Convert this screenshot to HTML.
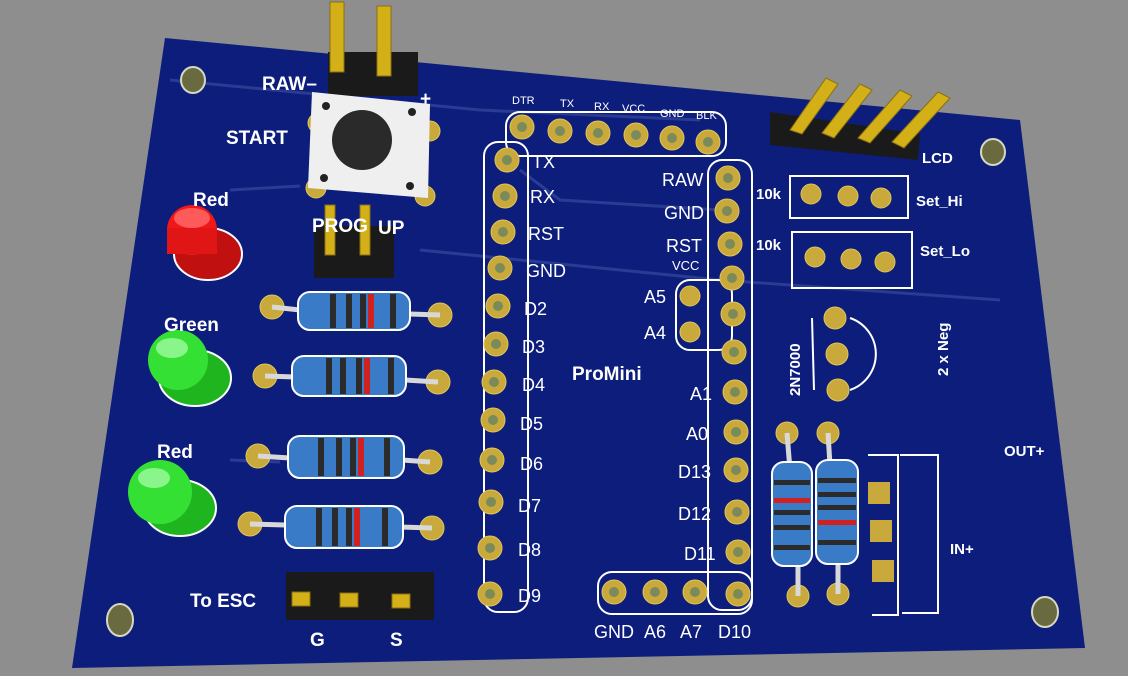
<!DOCTYPE html>
<html><head><meta charset="utf-8"><style>
html,body{margin:0;padding:0;background:#8e8e8e;}
svg{display:block}
text{font-family:"Liberation Sans",sans-serif;fill:#fff}
.b{font-weight:bold}
</style></head><body>
<svg width="1128" height="676" viewBox="0 0 1128 676">
<rect width="1128" height="676" fill="#8e8e8e"/>
<polygon points="165,38 1020,120 1085,648 72,668" fill="#0c1d7c"/>
<!-- traces -->
<g stroke="#2a3b94" stroke-width="3" fill="none">
<path d="M170,80 L480,110 L700,120"/>
<path d="M520,170 L560,200 L720,210"/>
<path d="M230,190 L300,186"/>
<path d="M420,250 L720,280 L1000,300"/>
<path d="M230,460 L280,462"/>
</g>
<!-- mounting holes -->
<g fill="#6a6a40" stroke="#d8d8c0" stroke-width="2">
<ellipse cx="193" cy="80" rx="12" ry="13"/><ellipse cx="993" cy="152" rx="12" ry="13"/>
<ellipse cx="120" cy="620" rx="13" ry="16"/><ellipse cx="1045" cy="612" rx="13" ry="15"/>
</g>
<!-- header outlines -->
<g fill="none" stroke="#fff" stroke-width="2">
<rect x="484" y="142" width="44" height="470" rx="14"/>
<rect x="708" y="160" width="44" height="450" rx="14"/>
<rect x="506" y="112" width="220" height="44" rx="14"/>
<rect x="598" y="572" width="154" height="42" rx="14"/>
<rect x="676" y="280" width="56" height="70" rx="14"/>
<rect x="790" y="176" width="118" height="42"/>
<rect x="792" y="232" width="120" height="56"/>
<path d="M868,455 h30 v160 h-26 M900,455 h38 v158 h-36"/>
</g>
<!-- pads -->
<g fill="#c9a93b" stroke="#e0c65a" stroke-width="1">
<g id="p">
<circle cx="507" cy="160" r="12"/><circle cx="505" cy="196" r="12"/><circle cx="503" cy="232" r="12"/><circle cx="500" cy="268" r="12"/>
<circle cx="498" cy="306" r="12"/><circle cx="496" cy="344" r="12"/><circle cx="494" cy="382" r="12"/><circle cx="493" cy="420" r="12"/>
<circle cx="492" cy="460" r="12"/><circle cx="491" cy="502" r="12"/><circle cx="490" cy="548" r="12"/><circle cx="490" cy="594" r="12"/>
<circle cx="728" cy="178" r="12"/><circle cx="727" cy="211" r="12"/><circle cx="730" cy="244" r="12"/><circle cx="732" cy="278" r="12"/>
<circle cx="733" cy="314" r="12"/><circle cx="734" cy="352" r="12"/><circle cx="735" cy="392" r="12"/><circle cx="736" cy="432" r="12"/>
<circle cx="736" cy="470" r="12"/><circle cx="737" cy="512" r="12"/><circle cx="738" cy="552" r="12"/><circle cx="738" cy="594" r="12"/>
<circle cx="522" cy="127" r="12"/><circle cx="560" cy="131" r="12"/><circle cx="598" cy="133" r="12"/><circle cx="636" cy="135" r="12"/><circle cx="672" cy="138" r="12"/><circle cx="708" cy="142" r="12"/>
<circle cx="614" cy="592" r="12"/><circle cx="655" cy="592" r="12"/><circle cx="695" cy="592" r="12"/>
<circle cx="690" cy="296" r="10"/><circle cx="690" cy="332" r="10"/>
<circle cx="811" cy="194" r="10"/><circle cx="848" cy="196" r="10"/><circle cx="881" cy="198" r="10"/>
<circle cx="815" cy="257" r="10"/><circle cx="851" cy="259" r="10"/><circle cx="885" cy="262" r="10"/>
<circle cx="835" cy="318" r="11"/><circle cx="837" cy="354" r="11"/><circle cx="838" cy="390" r="11"/>
<circle cx="787" cy="433" r="11"/><circle cx="828" cy="433" r="11"/><circle cx="798" cy="596" r="11"/><circle cx="838" cy="594" r="11"/>
<circle cx="272" cy="307" r="12"/><circle cx="440" cy="315" r="12"/><circle cx="265" cy="376" r="12"/><circle cx="438" cy="382" r="12"/>
<circle cx="258" cy="456" r="12"/><circle cx="430" cy="462" r="12"/><circle cx="250" cy="524" r="12"/><circle cx="432" cy="528" r="12"/>
<circle cx="318" cy="123" r="10"/><circle cx="430" cy="131" r="10"/><circle cx="316" cy="188" r="10"/><circle cx="425" cy="196" r="10"/>
</g>
</g>
<g fill="#7b8a5a">
<circle cx="507" cy="160" r="5"/><circle cx="505" cy="196" r="5"/><circle cx="503" cy="232" r="5"/><circle cx="500" cy="268" r="5"/><circle cx="498" cy="306" r="5"/><circle cx="496" cy="344" r="5"/><circle cx="494" cy="382" r="5"/><circle cx="493" cy="420" r="5"/><circle cx="492" cy="460" r="5"/><circle cx="491" cy="502" r="5"/><circle cx="490" cy="548" r="5"/><circle cx="490" cy="594" r="5"/>
<circle cx="728" cy="178" r="5"/><circle cx="727" cy="211" r="5"/><circle cx="730" cy="244" r="5"/><circle cx="732" cy="278" r="5"/><circle cx="733" cy="314" r="5"/><circle cx="734" cy="352" r="5"/><circle cx="735" cy="392" r="5"/><circle cx="736" cy="432" r="5"/><circle cx="736" cy="470" r="5"/><circle cx="737" cy="512" r="5"/><circle cx="738" cy="552" r="5"/><circle cx="738" cy="594" r="5"/>
<circle cx="522" cy="127" r="5"/><circle cx="560" cy="131" r="5"/><circle cx="598" cy="133" r="5"/><circle cx="636" cy="135" r="5"/><circle cx="672" cy="138" r="5"/><circle cx="708" cy="142" r="5"/>
<circle cx="614" cy="592" r="5"/><circle cx="655" cy="592" r="5"/><circle cx="695" cy="592" r="5"/>
</g>
<!-- 2N7000 outline -->
<path d="M850,318 A38,38 0 0 1 850,390" fill="none" stroke="#fff" stroke-width="2"/>
<line x1="812" y1="318" x2="814" y2="390" stroke="#fff" stroke-width="2"/>
<!-- terminal block pads -->
<g fill="#c9a93b"><rect x="868" y="482" width="22" height="22"/><rect x="870" y="520" width="22" height="22"/><rect x="872" y="560" width="22" height="22"/></g>
<!-- resistors -->
<g stroke="#d8d8d8" stroke-width="5" fill="none">
<path d="M272,307 L300,310 M410,314 L440,315"/><path d="M265,376 L295,377 M405,380 L438,382"/>
<path d="M258,456 L290,458 M402,460 L430,462"/><path d="M250,524 L285,525 M400,527 L432,528"/>
<path d="M787,433 L790,470 M798,560 L798,596"/><path d="M828,433 L830,465 M838,560 L838,594"/>
</g>
<g stroke="#fff" stroke-width="2" fill="#3a7bc8">
<rect x="298" y="292" width="112" height="38" rx="12"/><rect x="292" y="356" width="114" height="40" rx="12"/>
<rect x="288" y="436" width="116" height="42" rx="12"/><rect x="285" y="506" width="118" height="42" rx="12"/>
<rect x="772" y="462" width="40" height="104" rx="12"/><rect x="816" y="460" width="42" height="104" rx="12"/>
</g>
<g fill="#2b2b2b">
<rect x="330" y="294" width="6" height="34"/><rect x="346" y="294" width="6" height="34"/><rect x="360" y="294" width="6" height="34"/><rect x="390" y="294" width="6" height="34"/>
<rect x="326" y="358" width="6" height="36"/><rect x="340" y="358" width="6" height="36"/><rect x="356" y="358" width="6" height="36"/><rect x="388" y="358" width="6" height="36"/>
<rect x="318" y="438" width="6" height="38"/><rect x="336" y="438" width="6" height="38"/><rect x="350" y="438" width="6" height="38"/><rect x="384" y="438" width="6" height="38"/>
<rect x="316" y="508" width="6" height="38"/><rect x="332" y="508" width="6" height="38"/><rect x="346" y="508" width="6" height="38"/><rect x="382" y="508" width="6" height="38"/>
<rect x="774" y="480" width="36" height="5"/><rect x="774" y="510" width="36" height="5"/><rect x="774" y="525" width="36" height="5"/><rect x="774" y="545" width="36" height="5"/>
<rect x="818" y="478" width="38" height="5"/><rect x="818" y="492" width="38" height="5"/><rect x="818" y="505" width="38" height="5"/><rect x="818" y="540" width="38" height="5"/>
</g>
<g fill="#d02020"><rect x="368" y="294" width="6" height="34"/><rect x="364" y="358" width="6" height="36"/><rect x="358" y="438" width="6" height="38"/><rect x="354" y="508" width="6" height="38"/><rect x="774" y="498" width="36" height="5"/><rect x="818" y="520" width="38" height="5"/></g>
<!-- LEDs -->
<ellipse cx="208" cy="254" rx="34" ry="26" fill="#c01010" stroke="#fff" stroke-width="2"/>
<circle cx="192" cy="230" r="25" fill="#f01818"/><rect x="167" y="228" width="50" height="26" fill="#e01515"/>
<ellipse cx="192" cy="218" rx="18" ry="10" fill="#ff5a5a"/>
<ellipse cx="195" cy="378" rx="36" ry="28" fill="#1fb51f" stroke="#fff" stroke-width="2"/>
<circle cx="178" cy="360" r="30" fill="#35e035"/><ellipse cx="172" cy="348" rx="16" ry="10" fill="#8af58a"/>
<ellipse cx="180" cy="508" rx="36" ry="28" fill="#1fb51f" stroke="#fff" stroke-width="2"/>
<circle cx="160" cy="492" r="32" fill="#35e035"/><ellipse cx="154" cy="478" rx="16" ry="10" fill="#8af58a"/>
<!-- pin headers -->
<g fill="#1a1a1a"><rect x="314" y="226" width="80" height="52"/><rect x="286" y="572" width="148" height="48"/>
<polygon points="770,112 920,134 918,160 770,145"/><rect x="328" y="52" width="90" height="44"/></g>
<g fill="#d4b018" stroke="#8a7010"><rect x="325" y="205" width="10" height="50"/><rect x="360" y="205" width="10" height="50"/>
<rect x="330" y="2" width="14" height="70"/><rect x="377" y="6" width="14" height="70"/>
<rect x="292" y="592" width="18" height="14"/><rect x="340" y="593" width="18" height="14"/><rect x="392" y="594" width="18" height="14"/>
<polygon points="790,130 826,78 838,84 802,134"/><polygon points="822,133 860,84 872,90 834,138"/><polygon points="858,138 900,90 912,96 870,143"/><polygon points="892,142 938,92 950,98 904,148"/></g>
<!-- button -->
<polygon points="312,92 430,104 428,198 308,188" fill="#efefef"/>
<circle cx="362" cy="140" r="30" fill="#2a2a2a"/>
<g fill="#222"><circle cx="326" cy="106" r="4"/><circle cx="412" cy="112" r="4"/><circle cx="324" cy="178" r="4"/><circle cx="410" cy="186" r="4"/></g>
<!-- labels -->
<g class="b" font-size="19">
<text x="262" y="90">RAW–</text><text x="420" y="105">+</text><text x="226" y="144">START</text>
<text x="193" y="206">Red</text><text x="164" y="331">Green</text><text x="157" y="458">Red</text><text x="190" y="607">To ESC</text>
<text x="310" y="646">G</text><text x="390" y="646">S</text><text x="312" y="232">PROG</text><text x="378" y="234">UP</text>
<text x="572" y="380">ProMini</text>
</g>
<g class="b" font-size="15">
<text x="922" y="163">LCD</text><text x="756" y="199">10k</text><text x="916" y="206">Set_Hi</text>
<text x="756" y="250">10k</text><text x="920" y="256">Set_Lo</text><text x="1004" y="456">OUT+</text><text x="950" y="554">IN+</text>
<text transform="translate(800,396) rotate(-90)">2N7000</text><text transform="translate(948,376) rotate(-90)">2 x Neg</text>
</g>
<g font-size="18">
<text x="532" y="168">TX</text><text x="530" y="203">RX</text><text x="528" y="240">RST</text><text x="526" y="277">GND</text>
<text x="524" y="315">D2</text><text x="522" y="353">D3</text><text x="522" y="391">D4</text><text x="520" y="430">D5</text>
<text x="520" y="470">D6</text><text x="518" y="512">D7</text><text x="518" y="556">D8</text><text x="518" y="602">D9</text>
<text x="662" y="186">RAW</text><text x="664" y="219">GND</text><text x="666" y="252">RST</text><text x="644" y="303">A5</text><text x="644" y="339">A4</text>
<text x="690" y="400">A1</text><text x="686" y="440">A0</text><text x="678" y="478">D13</text><text x="678" y="520">D12</text><text x="684" y="560">D11</text>
<text x="594" y="638">GND</text><text x="644" y="638">A6</text><text x="680" y="638">A7</text><text x="718" y="638">D10</text>
</g>
<g font-size="11"><text x="512" y="104">DTR</text><text x="560" y="107">TX</text><text x="594" y="110">RX</text><text x="622" y="112">VCC</text><text x="660" y="117">GND</text><text x="696" y="119">BLK</text><text x="672" y="270" font-size="13">VCC</text></g>
</svg>
</body></html>
